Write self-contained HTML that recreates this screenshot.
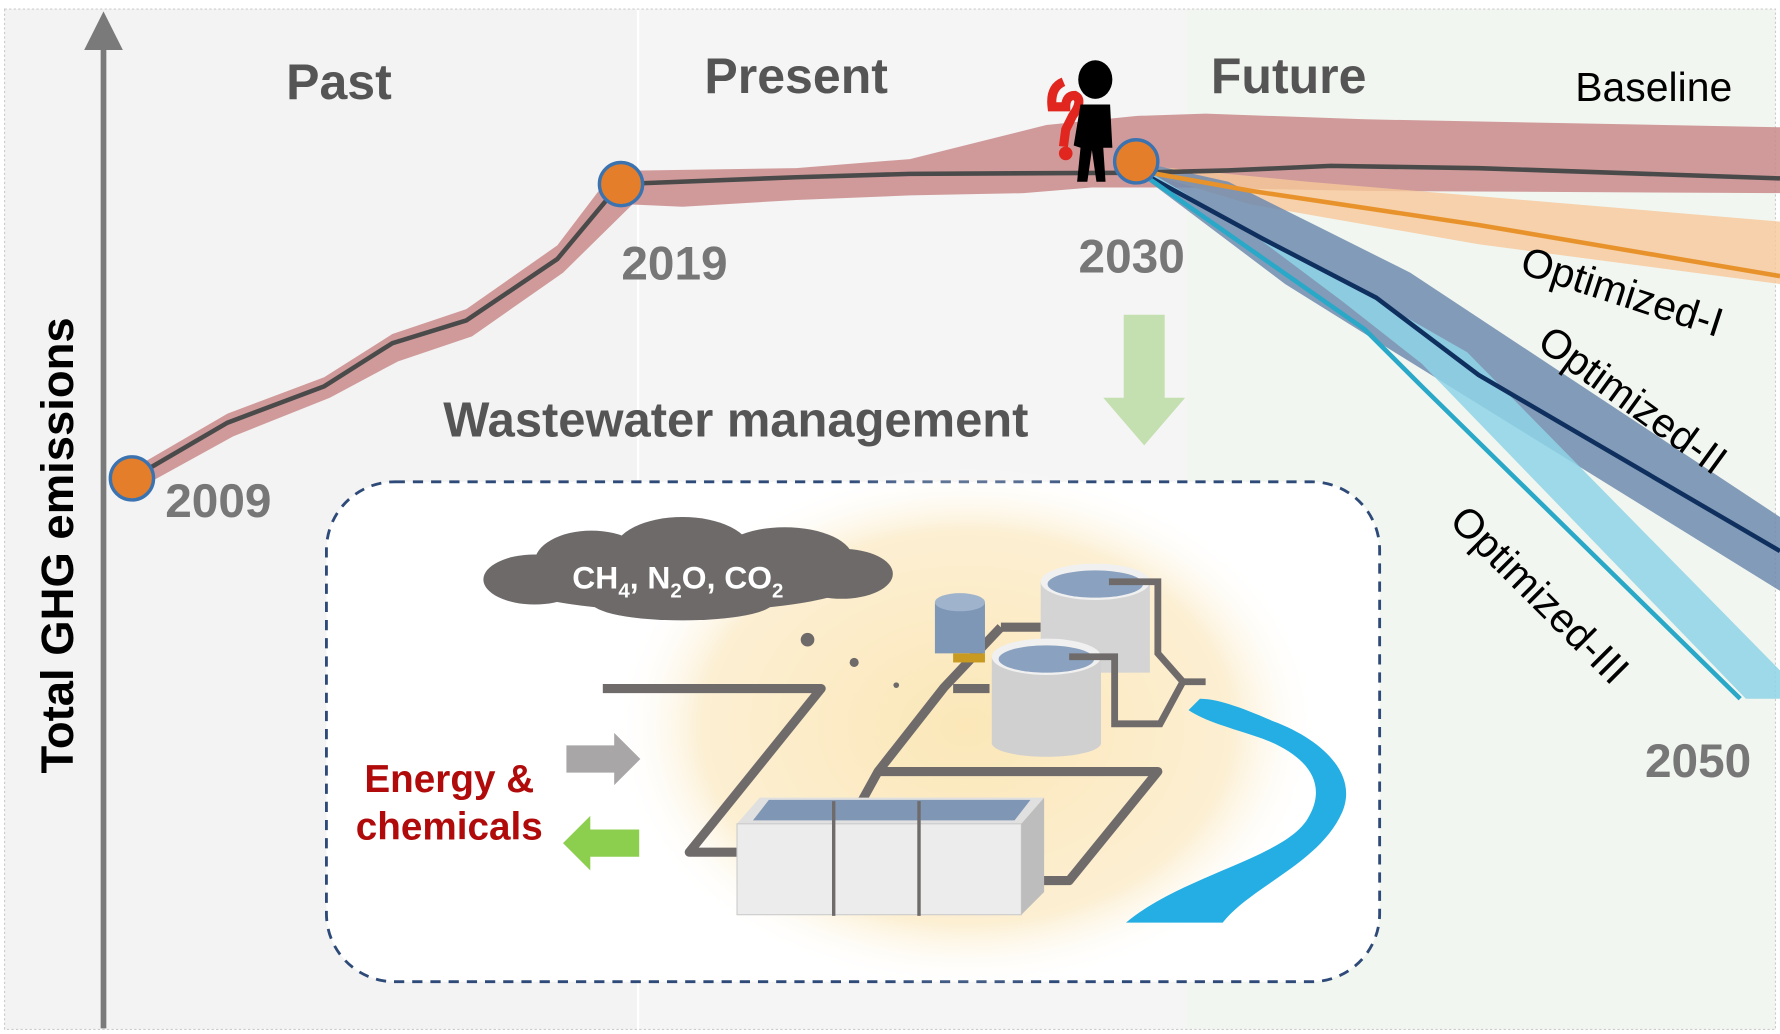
<!DOCTYPE html>
<html><head><meta charset="utf-8"><style>
html,body{margin:0;padding:0;background:#fff}
svg{display:block}
.n{font-family:"Liberation Sans Narrow","Liberation Sans",sans-serif;font-weight:bold}
</style></head><body>
<svg width="1780" height="1034" viewBox="0 0 1565 910" preserveAspectRatio="none" xmlns="http://www.w3.org/2000/svg">
<defs>
<radialGradient id="glow" cx="0.5" cy="0.5" r="0.5">
<stop offset="0" stop-color="#fbe7b8"/><stop offset="0.75" stop-color="#fcefd2"/><stop offset="1" stop-color="#fff" stop-opacity="0"/>
</radialGradient>
</defs>
<rect x="0" y="0" width="1565" height="910" fill="#fff"/>
<rect x="4" y="8" width="556" height="898" fill="#f3f3f3"/>
<rect x="562" y="8" width="481" height="898" fill="#f5f5f5"/>
<rect x="1043" y="8" width="518" height="898" fill="#f2f6f0"/>
<rect x="4" y="8" width="1557" height="898" fill="none" stroke="#ccc" stroke-width="1" stroke-dasharray="2 2"/>
<line x1="91" y1="905" x2="91" y2="40" stroke="#7a7a7a" stroke-width="5"/>
<polygon points="74,44 108,44 91,10" fill="#7a7a7a"/>
<text transform="translate(64,480) rotate(-90)" text-anchor="middle" font-size="40" font-weight="bold" fill="#000" style="font-family:'Liberation Sans',sans-serif">Total GHG emissions</text>
<text class="n" x="298" y="87" font-size="44" fill="#555" text-anchor="middle">Past</text>
<text class="n" x="700" y="82" font-size="44" fill="#555" text-anchor="middle">Present</text>
<text class="n" x="1133" y="82" font-size="44" fill="#555" text-anchor="middle">Future</text>
<text x="1454" y="89" font-size="36" fill="#000" text-anchor="middle" style="font-family:'Liberation Sans',sans-serif">Baseline</text>
<path d="M116,413 L200,364 285,332 345,294 410,272 450,244 490,216 540,150 L565,150 700,148 800,140 880,120 920,110 1000,102 1060,100 1200,105 1565,112 L1565,170 1200,168 1040,165 960,165 900,170 800,172 700,176 600,182 556,180 L495,240 455,268 415,296 350,318 290,350 205,384 118,432 Z" fill="#c98a8a" opacity="0.85"/>
<path d="M1000,145 L1150,160 1565,195 L1565,250 1300,215 1100,180 1000,150Z" fill="#f6c89a" opacity="0.8"/>
<path d="M1000,142 L1080,160 1170,205 1240,240 1565,455 L1565,520 1210,300 1130,250 1000,152Z" fill="#6f8bae" opacity="0.85"/>
<path d="M1000,145 L1100,205 1180,265 1250,320 1535,615 L1565,615 1565,590 1290,310 1150,230 1000,148Z" fill="#8ed3e6" opacity="0.85"/>
<polyline points="116,421 200,372 285,340 345,302 410,282 450,255 490,228 545,162 700,156 800,153 1000,152 1080,150 1170,146 1300,148 1565,157" fill="none" stroke="#4a4a4a" stroke-width="4"/>
<polyline points="1000,150 1100,168 1300,198 1565,243" fill="none" stroke="#e8922c" stroke-width="4"/>
<polyline points="1000,150 1110,210 1210,262 1300,330 1565,485" fill="none" stroke="#0f2f5e" stroke-width="4"/>
<polyline points="1000,150 1100,220 1200,290 1250,340 1530,615" fill="none" stroke="#2aa8c8" stroke-width="4"/>
<g stroke="#3b73b0" stroke-width="3" fill="#e57e2a">
<circle cx="116" cy="421" r="19"/><circle cx="546" cy="162" r="19"/><circle cx="999" cy="142" r="19"/>
</g>
<g>
<path d="M935,72 q-12,5 -10,22 l12,0 q0,-10 8,-10 q8,4 -2,18 l-6,12 l-2,15" fill="none" stroke="#e0261f" stroke-width="8"/>
<circle cx="937" cy="135" r="6" fill="#e0261f"/>
<ellipse cx="963" cy="70" rx="15" ry="17" fill="#000"/>
<path d="M950,92 l26,0 l2,38 l-8,0 l2,30 l-8,0 l-4,-28 l-4,28 l-9,0 l3,-30 l-6,-2Z" fill="#000"/>
</g>
<text class="n" x="192" y="455" font-size="42" fill="#777" text-anchor="middle">2009</text>
<text class="n" x="593" y="246" font-size="42" fill="#777" text-anchor="middle">2019</text>
<text class="n" x="995" y="240" font-size="42" fill="#777" text-anchor="middle">2030</text>
<text class="n" x="1493" y="684" font-size="42" fill="#777" text-anchor="middle">2050</text>
<text transform="translate(1335,240) rotate(18)" font-size="36" fill="#000" style="font-family:'Liberation Sans',sans-serif">Optimized-I</text>
<text transform="translate(1350,305) rotate(36)" font-size="36" fill="#000" style="font-family:'Liberation Sans',sans-serif">Optimized-II</text>
<text transform="translate(1273,460) rotate(45)" font-size="36" fill="#000" style="font-family:'Liberation Sans',sans-serif">Optimized-III</text>
<polygon points="988,277 1024,277 1024,350 1042,350 1006,392 970,350 988,350" fill="#c4dfb0"/>
<text class="n" x="647" y="384" font-size="43" fill="#555" text-anchor="middle">Wastewater management</text>
<rect x="287" y="424" width="926" height="440" rx="60" fill="#fff" stroke="#2e4a78" stroke-width="2.5" stroke-dasharray="9 7"/>
<ellipse cx="850" cy="640" rx="310" ry="230" fill="url(#glow)"/>
<g fill="#6e6a6a">
<ellipse cx="600" cy="508" rx="160" ry="30"/>
<ellipse cx="520" cy="495" rx="50" ry="28"/><ellipse cx="600" cy="485" rx="60" ry="30"/><ellipse cx="690" cy="492" rx="60" ry="28"/>
<ellipse cx="470" cy="510" rx="45" ry="22"/><ellipse cx="740" cy="505" rx="45" ry="22"/><ellipse cx="600" cy="530" rx="80" ry="16"/>
<circle cx="710" cy="563" r="6"/><circle cx="751" cy="583" r="4"/><circle cx="788" cy="603" r="2.5"/>
</g>
<text class="n" x="596" y="518" font-size="28" fill="#fff" text-anchor="middle">CH<tspan font-size="18" dy="8">4</tspan><tspan dy="-8">, N</tspan><tspan font-size="18" dy="8">2</tspan><tspan dy="-8">O, CO</tspan><tspan font-size="18" dy="8">2</tspan></text>
<path d="M1045,625 C1060,635 1080,640 1110,650 C1150,665 1168,690 1150,720 C1130,755 1040,770 990,812 L1075,812 C1100,780 1160,760 1180,715 C1195,680 1160,650 1120,635 C1090,622 1070,615 1055,615 Z" fill="#24aee4"/>
<g stroke="#706b6b" stroke-width="8" fill="none" stroke-linejoin="round">
<polyline points="530,606 722,606 606,750 650,750"/>
<polyline points="880,552 830,605 772,679 755,710"/>
<polyline points="772,679 1018,679 940,775 912,775"/>
<polyline points="838,606 870,606"/>
<polyline points="880,552 915,552"/>
</g>
<rect x="822" y="530" width="44" height="45" fill="#7f97b6"/><ellipse cx="844" cy="530" rx="22" ry="8" fill="#9fb3cc"/>
<rect x="838" y="575" width="28" height="8" fill="#c89a22"/>
<rect x="915" y="512" width="96" height="80" fill="#d4d4d4"/><ellipse cx="963" cy="512" rx="48" ry="16" fill="#f0f0f0"/><ellipse cx="963" cy="514" rx="42" ry="12" fill="#8aa1bf"/>
<rect x="872" y="578" width="96" height="76" fill="#d0d0d0"/><ellipse cx="920" cy="654" rx="48" ry="12" fill="#d0d0d0"/><ellipse cx="920" cy="578" rx="48" ry="16" fill="#f0f0f0"/><ellipse cx="920" cy="580" rx="42" ry="12" fill="#8aa1bf"/>
<g stroke="#706b6b" stroke-width="6" fill="none"><polyline points="975,512 1018,512 1018,575 1040,600 1020,637 980,637 980,578 940,578"/><line x1="1040" y1="600" x2="1060" y2="600"/></g>
<polygon points="648,725 668,702 918,702 898,725" fill="#e0e0e0"/>
<polygon points="662,722 676,704 906,704 892,722" fill="#7f96b5"/>
<rect x="648" y="725" width="250" height="80" fill="#ececec" stroke="#ccc"/>
<polygon points="898,725 918,702 918,785 898,805" fill="#bdbdbd"/>
<g stroke="#706b6b" stroke-width="3"><line x1="733" y1="705" x2="733" y2="806"/><line x1="808" y1="705" x2="808" y2="806"/></g>
<polygon points="498,656 540,656 540,645 563,668 540,691 540,680 498,680" fill="#a8a6a6"/>
<polygon points="562,730 519,730 519,718 495,742 519,766 519,754 562,754" fill="#8ccf4f"/>
<text class="n" x="395" y="697" font-size="34" fill="#b00a0a" text-anchor="middle">Energy &amp;</text>
<text class="n" x="395" y="739" font-size="34" fill="#b00a0a" text-anchor="middle">chemicals</text>
</svg>
</body></html>
